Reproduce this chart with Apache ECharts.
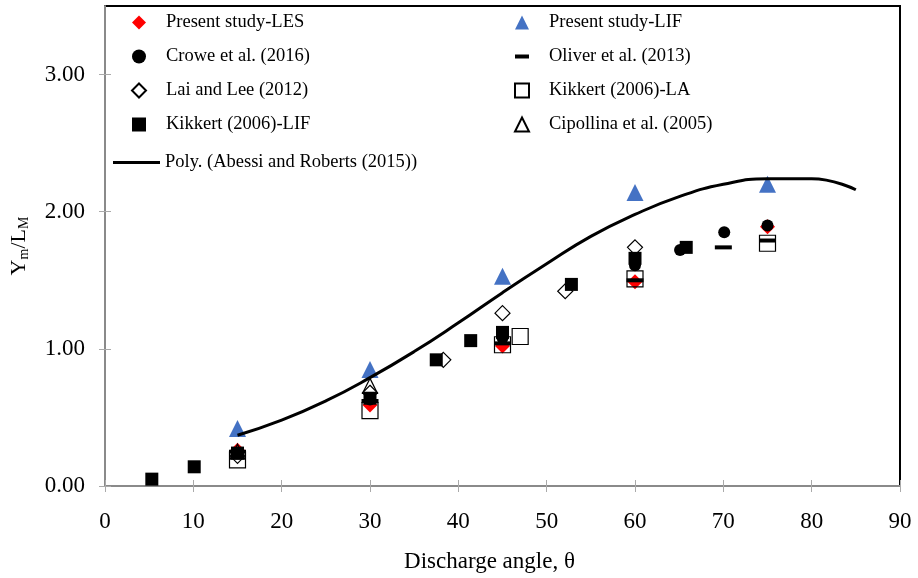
<!DOCTYPE html>
<html>
<head>
<meta charset="utf-8">
<script src="https://cdn.jsdelivr.net/npm/echarts@6/dist/echarts.min.js"></script>
<style>
  html, body { margin: 0; padding: 0; background: #fff; }
  #chart { width: 918px; height: 578px; }
</style>
</head>
<body>
<div id="chart"></div>
<script>
// Normalised vertical position Ym/LM against discharge angle (degrees)
const lesData       = [[15, 0.26], [30, 0.59], [45, 1.02], [60, 1.49], [75, 1.89]];
const lifData       = [[15, 0.42], [30, 0.85], [45, 1.53], [60, 2.14], [75, 2.20]];
const croweData     = [[15, 0.24], [30, 0.63], [45, 1.08], [60, 1.61], [65.1, 1.72], [70.1, 1.85], [75, 1.90]];
const oliverData    = [[15, 0.25], [30, 0.62], [45, 1.04], [60, 1.50], [70, 1.74], [75, 1.79]];
const laiData       = [[15, 0.22], [30, 0.68], [38.3, 0.92], [45, 1.26], [52.1, 1.42], [60, 1.74]];
const kikkertLAData = [[15, 0.19], [30, 0.55], [45, 1.03], [47, 1.09], [60, 1.51], [75, 1.77]];
const kikkertLIFData = [[5.3, 0.05], [10.1, 0.14], [15, 0.24], [30, 0.64], [37.5, 0.92], [41.4, 1.06], [45, 1.12], [52.8, 1.47], [60, 1.66], [65.8, 1.74]];
const cipollinaData = [[15, 0.25], [30, 0.73]];
// Polynomial fit of Abessi and Roberts (2015), sampled every 5 degrees
const polyData = [[15, 0.37], [20, 0.48], [25, 0.62], [30, 0.79], [35, 0.98], [40, 1.19], [45, 1.41], [50, 1.62], [55, 1.82], [60, 1.98], [65, 2.11], [70, 2.20], [75, 2.24], [80, 2.24], [85, 2.16]];

const xTicks = [0, 10, 20, 30, 40, 50, 60, 70, 80, 90];
const yTicks = [0, 1, 2, 3];

const FONT = '"Liberation Serif", "Times New Roman", serif';
const AXIS_GRAY = '#8a8a8a';
const BLUE = '#4472C4';
const RED = '#FF0000';

const chart = echarts.init(document.getElementById('chart'), null, { renderer: 'canvas' });

const openStyle = { color: 'rgba(255,255,255,0)', borderColor: '#000', borderWidth: 1.2, opacity: 1 };

const gridPos = { left: 105, right: 18, top: 6, bottom: 86 };

const legendText = { fontFamily: FONT, fontSize: 18.5, color: '#000', padding: [0, 0, 0, 15] };

chart.setOption({
  animation: false,
  backgroundColor: '#fff',
  grid: Object.assign({ show: true, borderColor: '#000', borderWidth: 2, backgroundColor: '#fff' }, gridPos),
  legend: [
    {
      orient: 'vertical', left: 131, top: 13, padding: 0, itemWidth: 14, itemHeight: 14, itemGap: 15,
      textStyle: legendText, selectedMode: false,
      data: ['Present study-LES', 'Crowe et al. (2016)', 'Lai and Lee (2012)', 'Kikkert (2006)-LIF']
    },
    {
      orient: 'vertical', left: 514, top: 13, padding: 0, itemWidth: 14, itemHeight: 14, itemGap: 15,
      textStyle: legendText, selectedMode: false,
      data: [
        'Present study-LIF',
        { name: 'Oliver et al. (2013)', icon: 'path://M0,0H14V4H0Z' },
        'Kikkert (2006)-LA',
        'Cipollina et al. (2005)'
      ]
    },
    {
      left: 113, top: 153, padding: 0, itemWidth: 47, itemHeight: 14,
      textStyle: { fontFamily: FONT, fontSize: 18.5, color: '#000' }, selectedMode: false,
      data: [{ name: 'Poly. (Abessi and Roberts (2015))', icon: 'path://M0,0H47V3H0Z' }]
    }
  ],
  xAxis: [
    {
      type: 'value', min: 0, max: 90, interval: 10,
      name: 'Discharge angle, θ', nameLocation: 'middle', nameGap: 64,
      nameTextStyle: { fontFamily: FONT, fontSize: 23, color: '#000', padding: [0, 26, 0, 0] },
      axisLine: { show: true, onZero: false, lineStyle: { color: AXIS_GRAY, width: 2 } },
      axisTick: { show: true, length: 6, lineStyle: { color: '#aaa', width: 1 } },
      axisLabel: { fontFamily: FONT, fontSize: 23, color: '#000', margin: 24,
        customValues: xTicks },
      splitLine: { show: false }
    },
    {
      type: 'value', min: 0, max: 90, interval: 10, position: 'bottom',
      axisLine: { show: false },
      axisTick: { show: true, inside: true, length: 6, lineStyle: { color: '#aaa', width: 1 } },
      axisLabel: { show: false }, splitLine: { show: false }
    }
  ],
  yAxis: [
    {
      type: 'value', min: 0, max: 3.5,
      name: '{b|Y}{s|m}{b|/L}{s|M}', nameLocation: 'middle', nameGap: 74,
      nameTextStyle: {
        fontFamily: FONT, color: '#000',
        rich: {
          b: { fontFamily: FONT, fontSize: 22, color: '#000' },
          s: { fontFamily: FONT, fontSize: 14, color: '#000', padding: [10, 0, 0, 0] }
        }
      },
      axisLine: { show: true, onZero: false, lineStyle: { color: AXIS_GRAY, width: 2 } },
      axisTick: { show: true, length: 6, customValues: yTicks, lineStyle: { color: '#aaa', width: 1 } },
      axisLabel: { fontFamily: FONT, fontSize: 23, color: '#000', margin: 20,
        customValues: yTicks, formatter: v => v.toFixed(2) },
      splitLine: { show: false }
    },
    {
      type: 'value', min: 0, max: 3.5, position: 'left',
      axisLine: { show: false },
      axisTick: { show: true, inside: true, length: 6, customValues: yTicks, lineStyle: { color: '#aaa', width: 1 } },
      axisLabel: { show: false }, splitLine: { show: false }
    }
  ],
  series: [
    { name: 'Present study-LES', type: 'scatter', data: lesData,
      symbol: 'diamond', symbolSize: 15, itemStyle: { color: RED, opacity: 1 } },
    { name: 'Present study-LIF', type: 'scatter', data: lifData,
      symbol: 'triangle', symbolSize: 17, itemStyle: { color: BLUE, opacity: 1 } },
    { name: 'Crowe et al. (2016)', type: 'scatter', data: croweData,
      symbol: 'circle', symbolSize: 12, itemStyle: { color: '#000', opacity: 1 } },
    { name: 'Oliver et al. (2013)', type: 'scatter', data: oliverData,
      symbol: 'rect', symbolSize: [17, 4], itemStyle: { color: '#000', opacity: 1 } },
    { name: 'Lai and Lee (2012)', type: 'scatter', data: laiData,
      symbol: 'diamond', symbolSize: 15, itemStyle: openStyle },
    { name: 'Kikkert (2006)-LA', type: 'scatter', data: kikkertLAData,
      symbol: 'rect', symbolSize: 16, itemStyle: openStyle },
    { name: 'Kikkert (2006)-LIF', type: 'scatter', data: kikkertLIFData,
      symbol: 'rect', symbolSize: 13, itemStyle: { color: '#000', opacity: 1 } },
    { name: 'Cipollina et al. (2005)', type: 'scatter', data: cipollinaData,
      symbol: 'triangle', symbolSize: 15, itemStyle: openStyle },
    { name: 'Poly. (Abessi and Roberts (2015))', type: 'line', data: polyData,
      smooth: true, showSymbol: false, symbol: 'none',
      lineStyle: { color: '#000', width: 3 }, itemStyle: { color: '#000' } }
  ]
});
</script>
</body>
</html>
